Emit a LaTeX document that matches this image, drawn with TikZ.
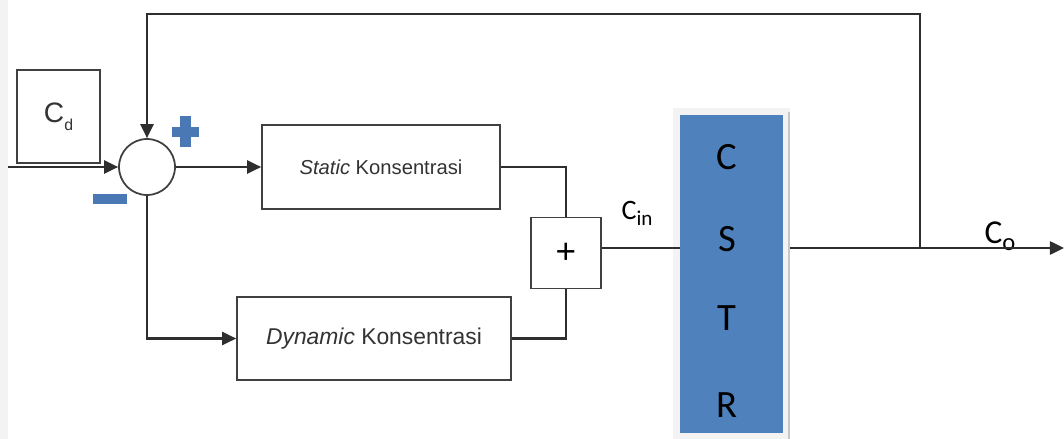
\documentclass[tikz,border=0pt]{standalone}
\usepackage{fontspec}
\setmainfont{Liberation Sans}
\newfontfamily\calibri{Carlito}
\usetikzlibrary{arrows.meta,positioning,calc}

\definecolor{wire}{HTML}{2E2E2E}
\definecolor{boxline}{HTML}{404040}
\definecolor{reactor}{HTML}{4F81BD}
\definecolor{signblue}{HTML}{4A78B4}
\definecolor{frame}{HTML}{F3F3F3}

\tikzset{
  wireline/.style={draw=wire, line width=1.2pt},
  arr/.style={wireline, -{Triangle[length=8pt,width=7.5pt]}},
  block/.style={draw=boxline, line width=1pt, fill=white, inner sep=0pt,
                text=black!80, font=\fontsize{12.5}{14}\selectfont},
  summer/.style={draw=boxline, line width=1pt, circle, minimum size=1.12cm, inner sep=0pt, fill=white},
  lab/.style={inner sep=0pt, font=\calibri\fontsize{16}{18}\selectfont},
  reactorletter/.style={inner sep=0pt, font=\calibri\fontsize{22}{24}\selectfont}
}

\begin{document}
\begin{tikzpicture}[x=0.02cm, y=-0.02cm]
  \useasboundingbox (0,0) rectangle (1064,439);
  % faint strip along the left edge
  \fill[frame] (0,0) rectangle (8,439);

  % set-point block
  \node[block, minimum width=1.66cm, minimum height=1.86cm,
        font=\fontsize{16}{18}\selectfont] (cd) at (58.5,116.5)
        {C\raisebox{-0.55ex}{\fontsize{9}{9}\selectfont d}};

  % summing junction
  \node[summer] (sum) at (147,167) {};

  % controller blocks
  \node[block, minimum width=4.76cm, minimum height=1.68cm,
        font=\fontsize{11.5}{13}\selectfont] (static) at (381,167)
        {\textit{Static} Konsentrasi};
  \node[block, minimum width=5.48cm, minimum height=1.66cm,
        font=\fontsize{13}{15}\selectfont] (dyn) at (374,338.5)
        {\textit{Dynamic} Konsentrasi};

  % adder of both controller outputs
  \node[block, minimum width=1.4cm, minimum height=1.42cm,
        font=\fontsize{20}{20}\selectfont, text=black] (add) at (566,253) {+};

  % reactor with its light frame
  \node[fill=frame, minimum width=2.34cm, minimum height=6.64cm, inner sep=0pt] (cstrframe) at (731,274) {};
  \draw[draw=black!22, line width=1.2pt] (789,112) -- (789,439);
  \node[fill=reactor, minimum width=2.06cm, minimum height=6.36cm, inner sep=0pt] (cstr) at (731.5,274) {};
  \node[reactorletter] (lc) at (727,157) {C};
  \node[reactorletter] (ls) at (727,239) {S};
  \node[reactorletter] (lt) at (727,318) {T};
  \node[reactorletter] (lr) at (727,405) {R};

  % signal labels
  \node[lab] (cin) at (637,213) {C\raisebox{-0.45ex}{\fontsize{12}{12}\selectfont in}};
  \node[lab, font=\calibri\fontsize{19}{20}\selectfont] (co) at (1000,236)
        {C\raisebox{-0.45ex}{\fontsize{14}{14}\selectfont o}};

  % sign markers at the junction
  \fill[signblue] (172,127) rectangle (199,137);
  \fill[signblue] (180,116) rectangle (191,147);
  \fill[signblue] (93,194) rectangle (127,204);

  % connection points
  \coordinate (in) at (8,167);
  \coordinate (tap) at (920,248);
  \coordinate (fbtop) at (147,14);
  \coordinate (out) at (1064,248);

  % signal flow
  \draw[arr] (in) -- (sum.west);
  \draw[arr] (sum.east) -- (static.west);
  \draw[arr] (sum.south) |- (dyn.west);
  \draw[wireline] (static.east) -| (add.north);
  \draw[wireline] (dyn.east) -| (add.south);
  \draw[wireline] (add.east |- tap) -- (cstr.west |- tap);
  \draw[arr] (cstrframe.east |- tap) -- (out);
  \draw[arr] (tap) |- (fbtop) -- (sum.north);
\end{tikzpicture}
\end{document}
